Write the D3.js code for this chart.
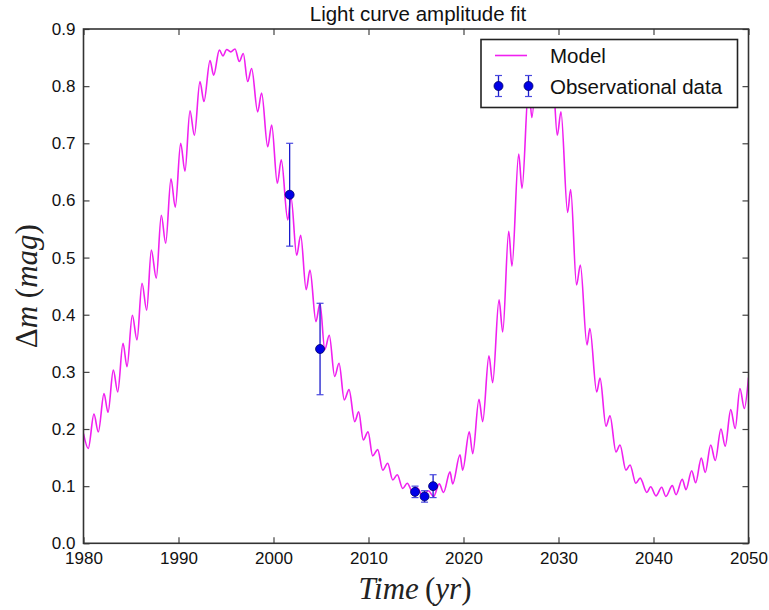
<!DOCTYPE html>
<html>
<head>
<meta charset="utf-8">
<script src="https://cdn.jsdelivr.net/npm/d3@7"></script>
<style>
  body { margin: 0; background: #fff; }
  text { font-family: "Liberation Sans", Arial, sans-serif; }
</style>
</head>
<body>
<div id="chart"></div>
<script>
// model curve, read at each wiggle's top and bottom
var modelYears = [1980.0, 1980.5, 1981.1, 1981.56, 1982.16, 1982.58, 1983.14, 1983.6, 1984.16, 1984.58,
  1985.14, 1985.63, 1986.16, 1986.65, 1987.14, 1987.66, 1988.19, 1988.65, 1989.21, 1989.66,
  1990.23, 1990.68, 1991.21, 1991.67, 1992.26, 1992.68, 1993.32, 1993.7, 1994.3, 1994.68,
  1995.07, 1995.5, 1995.95, 1996.4, 1996.82, 1997.28, 1997.7, 1998.33, 1998.75, 1999.39,
  1999.81, 2000.4, 2000.82, 2001.5, 2001.84, 2002.44, 2002.86, 2003.44, 2003.84, 2004.47,
  2004.89, 2005.4, 2005.87, 2006.44, 2006.9, 2007.45, 2007.95, 2008.55, 2008.97, 2009.45,
  2009.95, 2010.44, 2010.97, 2011.5, 2012.02, 2012.55, 2013.03, 2013.6, 2014.08, 2014.65,
  2015.1, 2015.7, 2016.3, 2016.85, 2017.45, 2017.9, 2018.58, 2018.86, 2019.63, 2019.91,
  2020.61, 2020.97, 2021.63, 2022.02, 2022.68, 2023.07, 2023.74, 2024.13, 2024.76, 2025.1,
  2025.81, 2026.16, 2026.86, 2027.2, 2027.85, 2028.2, 2028.65, 2028.95, 2029.35, 2029.87,
  2030.26, 2030.96, 2031.28, 2031.9, 2032.3, 2033.0, 2033.3, 2034.02, 2034.37, 2035.0,
  2035.42, 2036.05, 2036.47, 2037.1, 2037.53, 2038.14, 2038.6, 2039.3, 2039.7, 2040.26,
  2040.86, 2041.3, 2041.98, 2042.37, 2043.03, 2043.42, 2044.02, 2044.44, 2045.03, 2045.45,
  2046.02, 2046.5, 2047.1, 2047.55, 2048.13, 2048.6, 2049.1, 2049.56, 2050.0]
var modelMag = [0.192, 0.166, 0.226, 0.195, 0.262, 0.229, 0.303, 0.265, 0.350, 0.309,
  0.399, 0.356, 0.455, 0.408, 0.513, 0.464, 0.574, 0.525, 0.638, 0.588,
  0.700, 0.651, 0.757, 0.714, 0.808, 0.773, 0.845, 0.819, 0.863, 0.853,
  0.864, 0.860, 0.865, 0.843, 0.857, 0.808, 0.831, 0.755, 0.788, 0.694,
  0.732, 0.630, 0.671, 0.566, 0.606, 0.504, 0.539, 0.444, 0.478, 0.388,
  0.420, 0.339, 0.364, 0.292, 0.315, 0.251, 0.269, 0.213, 0.230, 0.181,
  0.195, 0.153, 0.164, 0.128, 0.140, 0.111, 0.120, 0.096, 0.105, 0.090,
  0.097, 0.084, 0.092, 0.082, 0.104, 0.089, 0.125, 0.104, 0.155, 0.128,
  0.195, 0.157, 0.252, 0.213, 0.328, 0.281, 0.426, 0.370, 0.546, 0.485,
  0.681, 0.621, 0.800, 0.745, 0.875, 0.850, 0.875, 0.820, 0.830, 0.714,
  0.755, 0.579, 0.619, 0.452, 0.487, 0.347, 0.376, 0.265, 0.289, 0.205,
  0.223, 0.160, 0.172, 0.128, 0.137, 0.105, 0.114, 0.089, 0.099, 0.083,
  0.098, 0.082, 0.101, 0.085, 0.112, 0.094, 0.127, 0.106, 0.149, 0.124,
  0.172, 0.145, 0.200, 0.170, 0.234, 0.201, 0.271, 0.236, 0.290]

// observations with error bars
var obsYears = [2001.7, 2004.9, 2014.9, 2015.9, 2016.8]
var obsMag = [0.61, 0.34, 0.09, 0.082, 0.10]
var obsErr = [0.09, 0.08, 0.01, 0.01, 0.02]

var xTicks = [1980, 1990, 2000, 2010, 2020, 2030, 2040, 2050]
var yTicks = [0.0, 0.1, 0.2, 0.3, 0.4, 0.5, 0.6, 0.7, 0.8, 0.9]

var width = 769
height = 610
margin = { top: 29, right: 20.5, bottom: 66.7, left: 83.5 }

var innerW = width - margin.left - margin.right
var innerH = height - margin.top - margin.bottom

var svg = d3.select('#chart')
  .append('svg')
  .attr('width', width)
  .attr('height', height)

var x = d3.scaleLinear().domain([1980, 2050]).range([margin.left, margin.left + innerW])
var y = d3.scaleLinear().domain([0, 0.9]).range([margin.top + innerH, margin.top])

svg.append('clipPath').attr('id', 'plotclip')
  .append('rect')
  .attr('x', margin.left).attr('y', margin.top)
  .attr('width', innerW).attr('height', innerH)

// model line
var model = modelYears.map(function (d, i) { return { t: d, v: modelMag[i] } })
var line = d3.line()
  .x(function (d) { return x(d.t) })
  .y(function (d) { return y(d.v) })
  .curve(d3.curveMonotoneX)

svg.append('path')
  .datum(model)
  .attr('clip-path', 'url(#plotclip)')
  .attr('d', line)
  .attr('fill', 'none')
  .attr('stroke', '#f020f0')
  .attr('stroke-width', 1.6)

// error bars + points
var obs = obsYears.map(function (d, i) { return { t: d, v: obsMag[i], e: obsErr[i] } })
var eb = svg.append('g').attr('class', 'errorbars')
eb.selectAll('line.bar').data(obs).enter().append('line')
  .attr('x1', function (d) { return x(d.t) })
  .attr('x2', function (d) { return x(d.t) })
  .attr('y1', function (d) { return y(d.v - d.e) })
  .attr('y2', function (d) { return y(d.v + d.e) })
  .attr('stroke', '#1a1acc').attr('stroke-width', 1.3)
eb.selectAll('line.capTop').data(obs).enter().append('line')
  .attr('x1', function (d) { return x(d.t) - 3.5 })
  .attr('x2', function (d) { return x(d.t) + 3.5 })
  .attr('y1', function (d) { return y(d.v + d.e) })
  .attr('y2', function (d) { return y(d.v + d.e) })
  .attr('stroke', '#4a4ae0').attr('stroke-width', 1.2)
eb.selectAll('line.capBot').data(obs).enter().append('line')
  .attr('x1', function (d) { return x(d.t) - 3.5 })
  .attr('x2', function (d) { return x(d.t) + 3.5 })
  .attr('y1', function (d) { return y(d.v - d.e) })
  .attr('y2', function (d) { return y(d.v - d.e) })
  .attr('stroke', '#4a4ae0').attr('stroke-width', 1.2)
svg.selectAll('circle.obs').data(obs).enter().append('circle')
  .attr('class', 'obs')
  .attr('cx', function (d) { return x(d.t) })
  .attr('cy', function (d) { return y(d.v) })
  .attr('r', 4.5)
  .attr('fill', '#0000e6')
  .attr('stroke', '#000066')
  .attr('stroke-width', 0.8)

// axes, ticks pointing inward on all four sides
var tickStyle = function (g) {
  g.select('.domain').remove()
  g.selectAll('.tick line').attr('stroke', '#444').attr('stroke-width', 1.2)
  g.selectAll('.tick text').attr('fill', '#111').style('font-size', '17px')
    .style('font-family', '"Liberation Sans", Arial, sans-serif')
}
svg.append('g')
  .attr('transform', 'translate(0,' + (margin.top + innerH) + ')')
  .call(d3.axisBottom(x).tickValues(xTicks).tickFormat(d3.format('d')).tickSizeInner(-6).tickPadding(9))
  .call(tickStyle)
svg.append('g')
  .attr('transform', 'translate(0,' + margin.top + ')')
  .call(d3.axisTop(x).tickValues(xTicks).tickFormat('').tickSizeInner(-6))
  .call(tickStyle)
svg.append('g')
  .attr('transform', 'translate(' + margin.left + ',0)')
  .call(d3.axisLeft(y).tickValues(yTicks).tickFormat(d3.format('.1f')).tickSizeInner(-6).tickPadding(8))
  .call(tickStyle)
svg.append('g')
  .attr('transform', 'translate(' + (margin.left + innerW) + ',0)')
  .call(d3.axisRight(y).tickValues(yTicks).tickFormat('').tickSizeInner(-6))
  .call(tickStyle)

svg.append('rect')
  .attr('x', margin.left).attr('y', margin.top)
  .attr('width', innerW).attr('height', innerH)
  .attr('fill', 'none').attr('stroke', '#333').attr('stroke-width', 1.6)

// title and labels
svg.append('text')
  .attr('x', margin.left + innerW / 2 + 2).attr('y', 21)
  .attr('text-anchor', 'middle')
  .style('font-size', '20.5px').attr('fill', '#111')
  .text('Light curve amplitude fit')

var xl = svg.append('text')
  .attr('x', margin.left + innerW / 2 - 1).attr('y', 599)
  .attr('text-anchor', 'middle')
  .style('font-family', '"Liberation Serif", "DejaVu Serif", serif')
  .style('font-size', '31px').attr('fill', '#222')
xl.append('tspan').style('font-style', 'italic').text('Time')
xl.append('tspan').text('\u2009(')
xl.append('tspan').style('font-style', 'italic').text('yr')
xl.append('tspan').text(')')

var yl = svg.append('text')
  .attr('transform', 'translate(37,' + (margin.top + innerH / 2) + ') rotate(-90)')
  .attr('text-anchor', 'middle')
  .style('font-family', '"Liberation Serif", "DejaVu Serif", serif')
  .style('font-size', '31px').attr('fill', '#222')
yl.append('tspan').text('Δ')
yl.append('tspan').style('font-style', 'italic').text('m')
yl.append('tspan').text(' (')
yl.append('tspan').style('font-style', 'italic').text('mag')
yl.append('tspan').text(')')

// legend
var lg = svg.append('g').attr('transform', 'translate(481,39.5)')
lg.append('rect')
  .attr('width', 256.5).attr('height', 68)
  .attr('fill', '#fff').attr('stroke', '#222').attr('stroke-width', 1.6)
lg.append('line')
  .attr('x1', 14).attr('x2', 46).attr('y1', 16).attr('y2', 16)
  .attr('stroke', '#f020f0').attr('stroke-width', 1.6)
lg.append('text').attr('x', 69).attr('y', 23).style('font-size', '20.5px').attr('fill', '#111').text('Model')
;[17.5, 47.5].forEach(function (cx) {
  lg.append('line').attr('x1', cx).attr('x2', cx).attr('y1', 36).attr('y2', 57)
    .attr('stroke', '#1a1acc').attr('stroke-width', 1.3)
  lg.append('line').attr('x1', cx - 3.5).attr('x2', cx + 3.5).attr('y1', 36).attr('y2', 36)
    .attr('stroke', '#4a4ae0').attr('stroke-width', 1.2)
  lg.append('line').attr('x1', cx - 3.5).attr('x2', cx + 3.5).attr('y1', 57).attr('y2', 57)
    .attr('stroke', '#4a4ae0').attr('stroke-width', 1.2)
  lg.append('circle').attr('cx', cx).attr('cy', 46.5).attr('r', 4.5)
    .attr('fill', '#0000e6').attr('stroke', '#000066').attr('stroke-width', 0.8)
})
lg.append('text').attr('x', 69).attr('y', 54).style('font-size', '20.5px').attr('fill', '#111').text('Observational data')
</script>
</body>
</html>
